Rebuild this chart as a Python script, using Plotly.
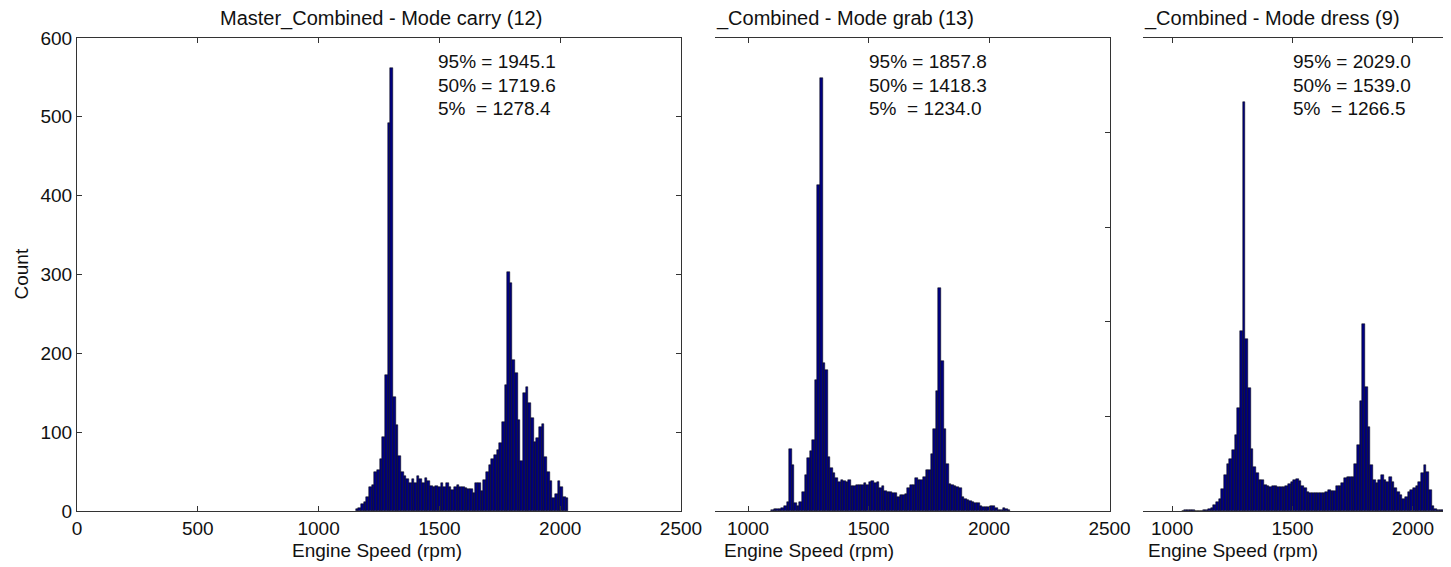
import plotly.graph_objects as go

# --------------------------------------------------
# Data (histogram counts)
# --------------------------------------------------
carry_start, carry_width = 1159, 11.0
carry_counts = [2, 4, 9, 12, 18, 31, 33, 50, 52, 66, 94, 173, 492, 562, 145, 109, 70, 49,
                44, 41, 36, 41, 35, 45, 41, 35, 42, 38, 32, 31, 32, 31, 36, 31, 36, 30,
                27, 30, 33, 30, 31, 29, 28, 28, 23, 35, 35, 25, 39, 50, 58, 66, 71, 78,
                86, 113, 160, 303, 289, 191, 175, 116, 64, 150, 157, 137, 118, 88, 93,
                106, 111, 68, 50, 38, 17, 22, 38, 30, 18, 16]

grab_start, grab_width = 1101, 10.68
grab_counts = [1, 2, 2, 2, 3, 5, 10, 66, 49, 8, 5, 9, 20, 38, 56, 63, 75, 138, 345, 458,
               156, 149, 57, 45, 40, 35, 31, 33, 32, 31, 33, 26, 26, 27, 27, 28, 30, 28,
               31, 32, 30, 31, 24, 26, 21, 20, 20, 19, 19, 15, 17, 17, 18, 24, 27, 27,
               35, 33, 33, 36, 43, 43, 60, 87, 127, 236, 159, 87, 50, 29, 27, 26, 25,
               24, 15, 13, 12, 11, 10, 8, 8, 5, 4, 4, 4, 5, 5, 3, 1, 1, 3, 2, 1]

dress_start, dress_width = 1044.5, 11.05
dress_counts = [0, 1, 1, 1, 1, 0, 0, 0, 1, 1, 2, 3, 6, 9, 13, 23, 38, 50, 55, 65, 80,
                109, 190, 432, 182, 130, 66, 47, 40, 33, 33, 27, 26, 25, 26, 26, 25, 25,
                25, 26, 29, 31, 33, 34, 32, 26, 24, 20, 19, 19, 19, 19, 19, 19, 20, 22,
                21, 21, 26, 26, 30, 35, 36, 36, 36, 50, 70, 116, 198, 131, 89, 49, 33,
                30, 33, 38, 33, 31, 36, 31, 24, 20, 17, 13, 15, 20, 22, 24, 26, 31, 40,
                49, 41, 22, 5, 2, 1, 1, 1, 1]

titles = ["Master_Combined - Mode carry (12)", "_Combined - Mode grab (13)",
          "_Combined - Mode dress (9)"]
stats = [["95% = 1945.1", "50% = 1719.6", "5%\u00a0 = 1278.4"],
         ["95% = 1857.8", "50% = 1418.3", "5%\u00a0 = 1234.0"],
         ["95% = 2029.0", "50% = 1539.0", "5%\u00a0 = 1266.5"]]
x_ticks = [0, 500, 1000, 1500, 2000, 2500]
y_ticks = [0, 100, 200, 300, 400, 500, 600]

# --------------------------------------------------
# Figure (page body has an 8px margin, so the figure is shifted)
# --------------------------------------------------
OX, OY = 8, 8
FW, FH = 1451 - OX, 567 - OY
FONT = "Liberation Sans, Arial, sans-serif"
FS = 19
AX = "#333333"


def px(x):
    return (x - OX) / FW


def py(y):
    return (FH - (y - OY)) / FH


fig = go.Figure()

panels = [
    (carry_start, carry_width, carry_counts, "x", "y"),
    (grab_start, grab_width, grab_counts, "x2", "y2"),
    (dress_start, dress_width, dress_counts, "x3", "y3"),
]
for start, width, counts, xa, ya in panels:
    fig.add_trace(go.Bar(
        x0=start, dx=width, y=counts, width=width,
        marker=dict(color="#000080", line=dict(color="#000000", width=0.5)),
        xaxis=xa, yaxis=ya, showlegend=False,
    ))

ydom = [py(511), py(38)]
xdoms = [[px(77), px(681)], [px(715), px(1110)], [px(1143), 1.0]]

base_x = dict(tickmode="array", tickvals=x_ticks, ticks="inside", ticklen=5,
              tickcolor=AX, showline=True, linecolor=AX, linewidth=1,
              mirror="ticks", showgrid=False, zeroline=False, automargin=False,
              tickfont=dict(family=FONT, size=FS, color="#111"))

fig.update_layout(
    width=FW, height=FH,
    margin=dict(l=0, r=0, t=0, b=0, pad=0),
    paper_bgcolor="white", plot_bgcolor="white",
    bargap=0,
    font=dict(family=FONT, size=FS, color="#111"),
    xaxis=dict(base_x, domain=xdoms[0], range=[0, 2500], anchor="y"),
    xaxis2=dict(base_x, domain=xdoms[1], range=[863, 2502], anchor="y2"),
    xaxis3=dict(base_x, domain=xdoms[2], range=[879, 2158], anchor="y3"),
    yaxis=dict(domain=ydom, range=[0, 600], tickmode="array", tickvals=y_ticks,
               ticks="inside", ticklen=5, tickcolor=AX, showline=True,
               linecolor=AX, linewidth=1, mirror="ticks", showgrid=False,
               zeroline=False, anchor="x", automargin=False,
               tickfont=dict(family=FONT, size=FS, color="#111")),
    yaxis2=dict(domain=ydom, range=[0, 500], dtick=100, side="right",
                ticks="inside", ticklen=5, tickcolor=AX, showline=True,
                linecolor=AX, linewidth=1, showticklabels=False,
                showgrid=False, zeroline=False, anchor="x2", automargin=False),
    yaxis3=dict(domain=ydom, range=[0, 500], showline=False, ticks="",
                showticklabels=False, showgrid=False, zeroline=False,
                anchor="x3", automargin=False),
)

ann = []
# panel titles
ann.append(dict(text=titles[0], x=px(381), y=py(18), xanchor="center", size=20))
ann.append(dict(text=titles[1], x=px(714), y=py(18), xanchor="left", size=20))
ann.append(dict(text=titles[2], x=px(1142), y=py(18), xanchor="left", size=20))
# x-axis titles
ann.append(dict(text="Engine Speed (rpm)", x=px(377), y=py(550), xanchor="center"))
ann.append(dict(text="Engine Speed (rpm)", x=px(722), y=py(550), xanchor="left"))
ann.append(dict(text="Engine Speed (rpm)", x=px(1146), y=py(550), xanchor="left"))
# y-axis title
ann.append(dict(text="Count", x=px(21), y=py(274.5), xanchor="center", textangle=-90))
for a in ann:
    size = a.pop("size", FS)
    a.update(xref="paper", yref="paper", yanchor="middle", showarrow=False,
             font=dict(family=FONT, size=size, color="#111"))

# percentile text
line_y = [62, 85, 109]
for (xa, x_left), lines in zip([("x", 1486), ("x2", 1494), ("x3", 1494)], stats):
    for txt, ly in zip(lines, line_y):
        ann.append(dict(text=txt, x=x_left, xref=xa, y=py(ly), yref="paper",
                        xanchor="left", yanchor="middle", showarrow=False,
                        font=dict(family=FONT, size=FS, color="#111")))

fig.update_layout(annotations=ann)

fig.write_html("out.html")
